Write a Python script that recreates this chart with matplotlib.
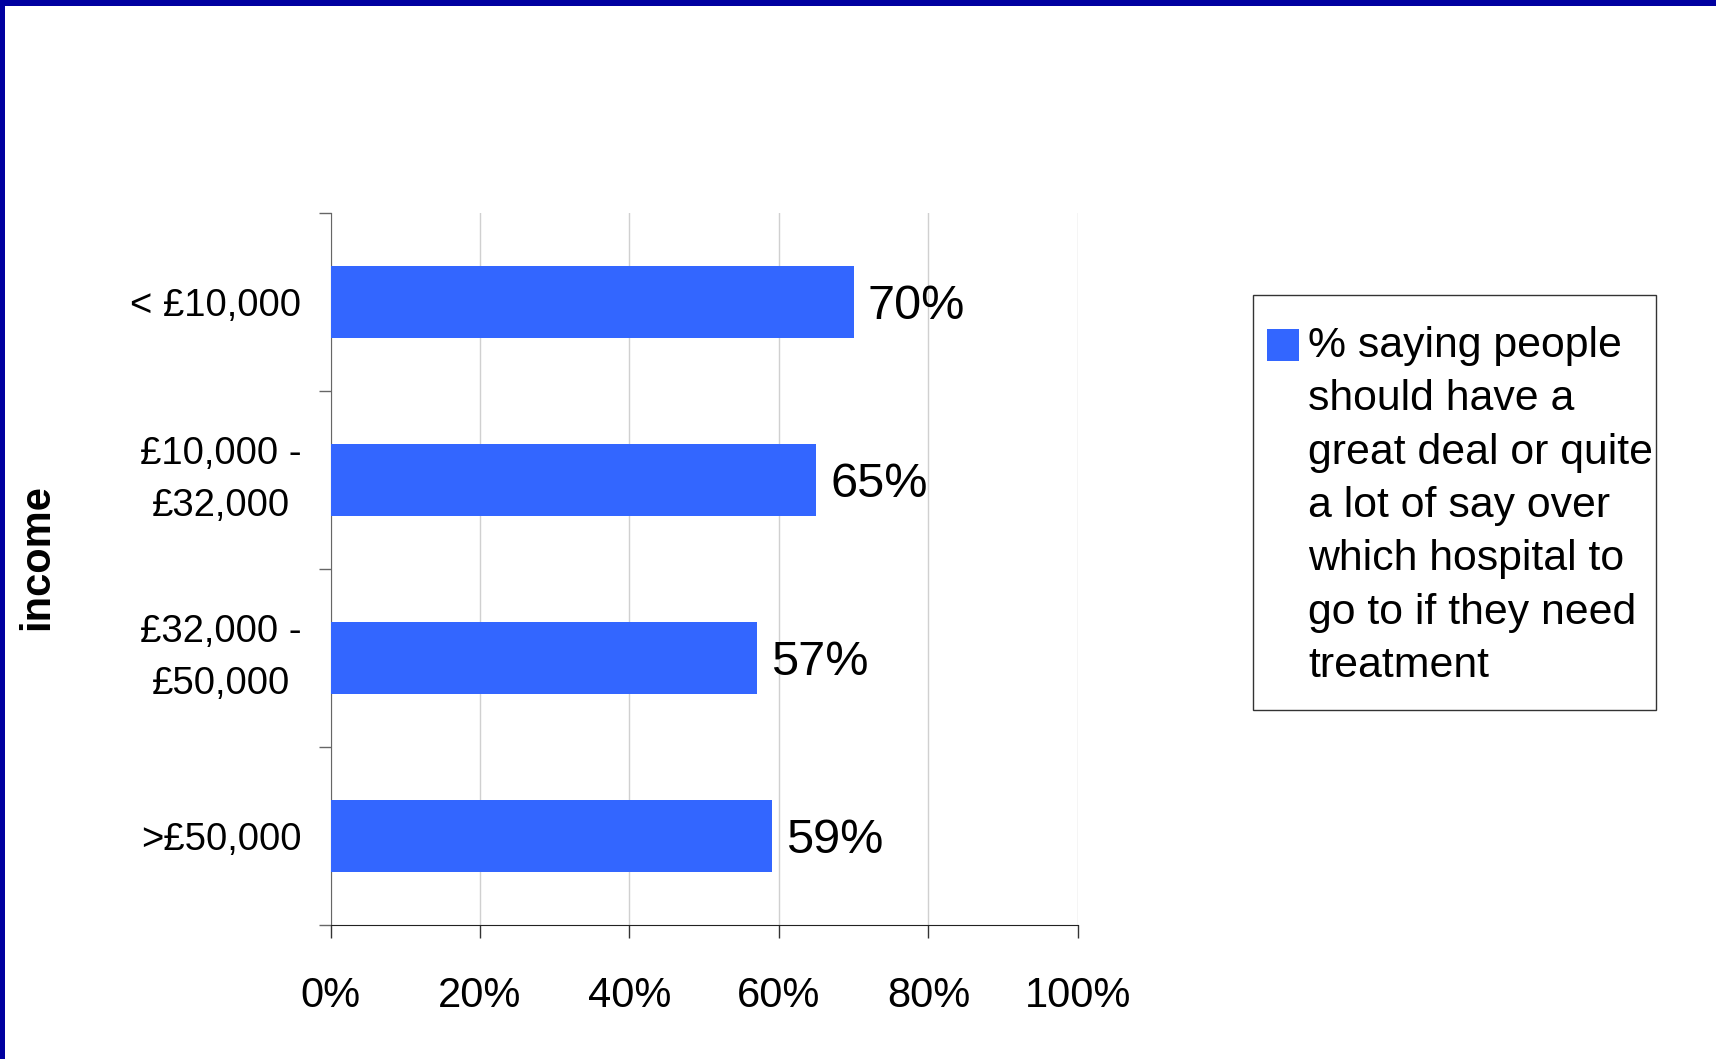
import matplotlib
matplotlib.use("Agg")
import matplotlib.pyplot as plt
from matplotlib.patches import Rectangle
import numpy as np

plt.rcParams['font.family'] = ['Liberation Sans', 'DejaVu Sans']

# Datos del grafico
categories = ['< £10,000', '£10,000 -\n£32,000', '£32,000 -\n£50,000', '>£50,000']
values = [70, 65, 57, 59]
x_ticks = [0, 20, 40, 60, 80, 100]
x_labels = ['0%', '20%', '40%', '60%', '80%', '100%']
legend_label = ('% saying people\nshould have a\ngreat deal or quite\n'
                'a lot of say over\nwhich hospital to\ngo to if they need\ntreatment')
axis_label = 'income'

bar_color = '#3366FF'
border_color = '#0000A0'

fig = plt.figure(figsize=(17.16, 10.59), dpi=100)
ax = fig.add_axes([0.1926, 0.1265, 0.4356, 0.6724])

y = np.arange(len(categories))
ax.barh(y, values, height=0.4, color=bar_color, zorder=3)

# Etiquetas de valor al final de cada barra
for yi, v in zip(y, values):
    ax.text(v + 1.9, yi + 0.025, f'{v}%', va='center', ha='left', fontsize=35, zorder=4)

ax.set_xlim(0, 100)
ax.set_ylim(len(categories) - 0.5, -0.5)
ax.set_xticks(x_ticks)
ax.set_xticklabels(x_labels, fontsize=30)
ax.set_yticks(y)
ax.set_yticklabels(categories, fontsize=27.5, multialignment='center', linespacing=1.55)
# las etiquetas de dos lineas se centran por su caja completa
for lbl in ax.get_yticklabels():
    lbl.set_va('center' if '\n' in lbl.get_text() else 'center_baseline')
ax.set_yticks(np.arange(-0.5, len(categories), 1), minor=True)

ax.tick_params(axis='y', which='major', length=0, pad=21)
ax.tick_params(axis='y', which='minor', length=9, width=1, color='#666666', direction='out')
ax.tick_params(axis='x', which='major', length=9, width=1, color='#333333', pad=27.5)

ax.grid(axis='x', color='#D0D0D0', linewidth=1, zorder=0)
for s in ['top', 'right']:
    ax.spines[s].set_visible(False)
ax.spines['left'].set_color('#666666')
ax.spines['bottom'].set_color('#222222')

fig.text(0.0216, 0.474, axis_label, rotation=90, fontsize=30, fontweight='bold',
         ha='center', va='center')

# Leyenda dibujada a mano (cuadro, marcador y texto)
fig.patches.append(Rectangle((1253 / 1716, 1 - 710 / 1059), 403 / 1716, 415 / 1059,
                             transform=fig.transFigure, facecolor='white',
                             edgecolor='#333333', linewidth=1))
fig.patches.append(Rectangle((1267 / 1716, 1 - 361 / 1059), 32 / 1716, 32 / 1059,
                             transform=fig.transFigure, facecolor=bar_color,
                             edgecolor='none'))
fig.text(1308 / 1716, 1 - 326 / 1059, legend_label, fontsize=30.8, ha='left', va='top',
         linespacing=1.43)

# Borde azul superior e izquierdo
fig.patches.append(Rectangle((0, 1 - 6 / 1059), 1, 6 / 1059, transform=fig.transFigure,
                             facecolor=border_color, edgecolor='none'))
fig.patches.append(Rectangle((0, 0), 5 / 1716, 1, transform=fig.transFigure,
                             facecolor=border_color, edgecolor='none'))

fig.savefig('out.png', dpi=100)
